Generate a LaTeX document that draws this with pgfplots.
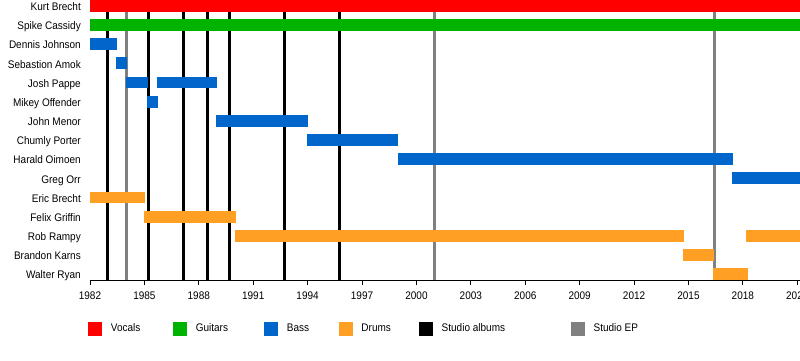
\documentclass[border=0pt]{standalone}
\usepackage{pgfplots}
\pgfplotsset{compat=1.18}
\usepackage{fontspec}
\setmainfont{Liberation Sans}[FakeStretch=0.91]
\definecolor{cvoc}{HTML}{FF0000}
\definecolor{cgtr}{HTML}{00B300}
\definecolor{cbass}{HTML}{0066CC}
\definecolor{cdrm}{HTML}{FFA024}
\definecolor{cep}{HTML}{808080}
\begin{document}
\begin{tikzpicture}[font=\fontsize{11pt}{13pt}\selectfont]
\useasboundingbox (-90pt,-80pt) rectangle (710pt,280pt);
\begin{axis}[
  at={(0pt,0pt)}, anchor=south west,
  scale only axis, width=710pt, height=280pt,
  xmin=1982, xmax=2021.15, ymin=0.69, ymax=15.31,
  axis lines*=left,
  y axis line style={draw=none},
  x axis line style={black, line width=0.9pt},
  tick align=outside,
  major tick length=5pt, minor tick length=3pt,
  ytick={1,...,15},
  yticklabels={Walter Ryan, Brandon Karns, Rob Rampy, Felix Griffin, Eric Brecht, Greg Orr, Harald Oimoen, Chumly Porter, John Menor, Mikey Offender, Josh Pappe, Sebastion Amok, Dennis Johnson, Spike Cassidy, Kurt Brecht},
  ytick style={draw=none},
  yticklabel style={inner sep=0pt, anchor=base east, xshift=-4pt, yshift=-4.7pt},
  xtick={1982,1985,...,2021},
  minor x tick num=2,
  x tick style={black, line width=0.8pt},
  xticklabel style={inner sep=0pt, anchor=base, yshift=-14.3pt},
  /pgf/number format/.cd, 1000 sep={}, assume math mode=true,
  /pgfplots/.cd,
  legend columns=6,
  legend image code/.code={\fill[#1] (0pt,-6.5pt) rectangle (13pt,6.5pt); \path[draw=none,fill=none] (0pt,-0.1pt) rectangle (22.4pt,0.1pt);},
  legend style={draw=none, fill=none, inner sep=0pt, outer sep=0pt,
    nodes={inner sep=0pt, outer sep=0pt}, column sep=0pt,
    cells={anchor=west},
    at={(axis description cs:-0.0024,-0.1732)}, anchor=west},
]
\addlegendimage{cvoc}\addlegendentry{\makebox[62.3pt][l]{Vocals}}
\addlegendimage{cgtr}\addlegendentry{\makebox[68.6pt][l]{Guitars}}
\addlegendimage{cbass}\addlegendentry{\makebox[51.9pt][l]{Bass}}
\addlegendimage{cdrm}\addlegendentry{\makebox[57.6pt][l]{Drums}}
\addlegendimage{black}\addlegendentry{\makebox[129.3pt][l]{Studio albums}}
\addlegendimage{cep}\addlegendentry{\makebox[60pt][l]{Studio EP}}

% studio albums
\addplot[black, line width=3pt, forget plot] coordinates {(1982.99,0.69) (1982.99,15.31)};
\addplot[black, line width=3pt, forget plot] coordinates {(1985.20,0.69) (1985.20,15.31)};
\addplot[black, line width=3pt, forget plot] coordinates {(1987.13,0.69) (1987.13,15.31)};
\addplot[black, line width=3pt, forget plot] coordinates {(1988.46,0.69) (1988.46,15.31)};
\addplot[black, line width=3pt, forget plot] coordinates {(1989.71,0.69) (1989.71,15.31)};
\addplot[black, line width=3pt, forget plot] coordinates {(1992.75,0.69) (1992.75,15.31)};
\addplot[black, line width=3pt, forget plot] coordinates {(1995.78,0.69) (1995.78,15.31)};
% studio EPs
\addplot[cep, line width=3pt, forget plot] coordinates {(1984.01,0.69) (1984.01,15.31)};
\addplot[cep, line width=3pt, forget plot] coordinates {(2000.98,0.69) (2000.98,15.31)};
\addplot[cep, line width=3pt, forget plot] coordinates {(2016.44,0.69) (2016.44,15.31)};

% members
\addplot[cvoc, line width=11.9pt, forget plot] coordinates {(1982,15) (2021.15,15)};
\addplot[cgtr, line width=11.9pt, forget plot] coordinates {(1982,14) (2021.15,14)};
\addplot[cbass, line width=11.9pt, forget plot] coordinates {(1982,13) (1983.51,13)};
\addplot[cbass, line width=11.9pt, forget plot] coordinates {(1983.46,12) (1984.03,12)};
\addplot[cbass, line width=11.9pt, forget plot] coordinates {(1983.97,11) (1985.22,11)};
\addplot[cbass, line width=11.9pt, forget plot] coordinates {(1985.68,11) (1988.99,11)};
\addplot[cbass, line width=11.9pt, forget plot] coordinates {(1985.17,10) (1985.74,10)};
\addplot[cbass, line width=11.9pt, forget plot] coordinates {(1988.94,9) (1994.01,9)};
\addplot[cbass, line width=11.9pt, forget plot] coordinates {(1993.96,8) (1999.01,8)};
\addplot[cbass, line width=11.9pt, forget plot] coordinates {(1999.00,7) (2017.45,7)};
\addplot[cbass, line width=11.9pt, forget plot] coordinates {(2017.41,6) (2021.15,6)};
\addplot[cdrm, line width=11.9pt, forget plot] coordinates {(1982,5) (1985.02,5)};
\addplot[cdrm, line width=11.9pt, forget plot] coordinates {(1984.96,4) (1990.04,4)};
\addplot[cdrm, line width=11.9pt, forget plot] coordinates {(1989.99,3) (2014.75,3)};
\addplot[cdrm, line width=11.9pt, forget plot] coordinates {(2018.18,3) (2021.15,3)};
\addplot[cdrm, line width=11.9pt, forget plot] coordinates {(2014.71,2) (2016.40,2)};
\addplot[cdrm, line width=11.9pt, forget plot] coordinates {(2016.37,1) (2018.30,1)};
\end{axis}
\end{tikzpicture}
\end{document}
